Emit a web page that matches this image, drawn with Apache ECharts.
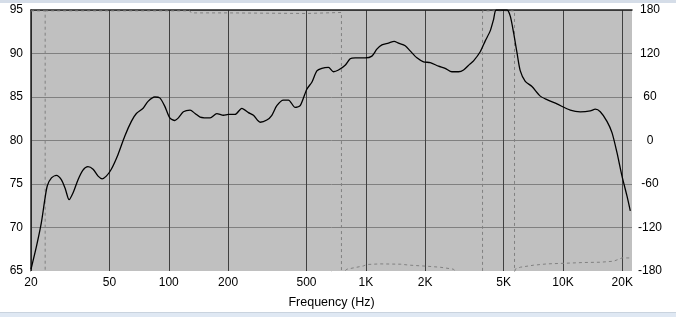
<!DOCTYPE html>
<html><head><meta charset="utf-8">
<script src="https://cdn.jsdelivr.net/npm/echarts@6/dist/echarts.min.js"></script>
<style>html,body{margin:0;padding:0;background:#fff}#c{width:676px;height:317px}</style>
</head><body><div id="c"></div>
<script>
// Frequency (Hz) and SPL (dB) of the response curve
var splFreq = [20,21.3,22.55,23.5,24.2,25.4,26.9,28.5,29.9,31.2,32.7,34.65,36.7,38.9,41.3,43.8,45.9,48.2,51.1,55.3,59.8,64.6,68.5,74.1,78.5,84.9,90,95.4,101.2,107.3,111.9,118.6,128.3,136,144.2,162.1,175.3,189.4,200.7,217.1,234.8,253.6,268.9,290.8,314.4,333.4,353.4,381.8,404.8,437.8,464.2,501.7,532,564.1,597.9,645.9,684.8,726.1,785.1,832.4,882.6,992,1073,1137,1206,1302,1392,1463,1583,1678,1815,1961,2121,2337,2526,2732,2952,3130,3357,3518,3804,4034,4275,4444,4586,5198,5403,5616,5844,6074,6438,6962,7670,8295,9325,10889,12239,13759,14585,15463,16720,17729,18796,19931,21134,21963];
var splDb = [65.2,67.8,70.5,73.2,74.8,75.7,76.0,75.5,74.4,73.2,74.0,75.5,76.6,77.0,76.7,75.9,75.6,75.9,76.7,78.4,80.5,82.2,83.1,83.7,84.5,85.0,84.9,83.95,82.6,82.3,82.6,83.3,83.5,83.1,82.7,82.6,83.1,82.9,83.0,83.0,83.7,83.2,82.9,82.1,82.35,82.9,84.0,84.65,84.65,83.8,84.0,85.9,86.7,88.0,88.3,88.4,87.9,88.1,88.65,89.4,89.5,89.5,89.7,90.5,91.0,91.2,91.4,91.2,90.9,90.3,89.5,89.05,88.95,88.55,88.3,87.9,87.9,88.1,88.75,89.15,90.2,91.45,92.6,93.9,95.0,95.0,94.3,92.4,90.1,88.0,86.8,86.2,85.1,84.7,84.2,83.5,83.3,83.4,83.6,83.3,82.2,80.9,78.6,75.9,73.6,71.9];
// Phase (degrees); '-' breaks the curve after a wrap
var phaseFreq = [20,23.6,23.6,23.6,23.6,128,130,200,202,498,502,751.8,751.8,801,972,1012,1182,1493,1678,2040,2383,2784,2900,3908,3908,5678,5678,5726,6074,7092,8295,10480,12725,15463,18065,19931,22400];
var phaseDeg = [178.8,178.8,-184,'-',178.8,178.8,176.0,176.0,175.2,175.2,176.6,176.6,-184,-177.5,-173,-171,-170.2,-170.6,-172,-173.4,-174.8,-177.5,-184,-184,178.8,178.8,-184,-177.5,-174.8,-172,-170.2,-169.2,-168.3,-167.9,-166.5,-162,-162];
// Axis ticks
var freqTicks = [20,50,100,200,500,1000,2000,5000,10000,20000];
var splTicks = [65,70,75,80,85,90,95];
var phaseTicks = [-180,-120,-60,0,60,120,180];

var splData = splFreq.map(function(f,i){return [f, splDb[i]];});
var phaseData = phaseFreq.map(function(f,i){return [f, phaseDeg[i]];});
var font = '"Liberation Sans", Arial, sans-serif';

var chart = echarts.init(document.getElementById('c'), null, {renderer:'canvas'});
chart.setOption({
  animation: false,
  backgroundColor: '#ffffff',
  textStyle: {fontFamily: font},
  graphic: [
    {type:'rect', shape:{x:0,y:0,width:676,height:3}, style:{fill:'#d5dde8'}, silent:true},
    {type:'rect', shape:{x:0,y:312,width:676,height:1}, style:{fill:'#c9d3de'}, silent:true},
    {type:'rect', shape:{x:0,y:313,width:676,height:4}, style:{fill:'#dfe8f3'}, silent:true}
  ],
  grid: {left:31, right:44, top:10, bottom:46, show:true, backgroundColor:'#c0c0c0', borderWidth:0},
  xAxis: [{
    type:'log', logBase:10, min:20, max:22400,
    name:'Frequency (Hz)', nameLocation:'middle', nameGap:25,
    nameTextStyle:{color:'#000', fontSize:12.5, fontFamily:font},
    axisLine:{show:true, onZero:false, lineStyle:{color:'#ffffff', width:1}},
    axisTick:{show:false, customValues: freqTicks},
    axisLabel:{show:true, customValues: freqTicks, color:'#000', fontSize:12, fontFamily:font, margin:6,
      formatter:function(v){ return v>=1000 ? (v/1000)+'K' : String(v); }},
    splitLine:{show:true, lineStyle:{color:'#404040', width:1}},
    minorSplitLine:{show:false}
  },{
    type:'value', position:'top', min:0, max:1,
    axisLine:{show:true, onZero:false, lineStyle:{color:'#202020', width:1.5}},
    axisTick:{show:false}, axisLabel:{show:false}, splitLine:{show:false}
  }],
  yAxis: [{
    type:'value', min:65, max:95, interval:5, position:'left',
    axisLine:{show:true, onZero:false, lineStyle:{color:'#202020', width:1.5}},
    axisTick:{show:false},
    axisLabel:{color:'#000', fontSize:12, fontFamily:font, margin:8,
      customValues: splTicks},
    splitLine:{show:true, lineStyle:{color:'#808080', width:1}}
  },{
    type:'value', min:-180, max:180, interval:60, position:'right',
    axisLine:{show:true, onZero:false, lineStyle:{color:'#ffffff', width:1}},
    axisTick:{show:false},
    axisLabel:{color:'#000', fontSize:12, fontFamily:font, margin:18, align:'center',
      customValues: phaseTicks},
    splitLine:{show:false}
  }],
  series: [{
    type:'line', name:'Phase', xAxisIndex:0, yAxisIndex:1, data: phaseData,
    showSymbol:false, symbol:'none', connectNulls:false, clip:true,
    lineStyle:{color:'#808080', width:1, type:[3,3]}, z:3
  },{
    type:'line', name:'SPL', xAxisIndex:0, yAxisIndex:0, data: splData,
    showSymbol:false, symbol:'none', smooth:0.25, clip:true,
    lineStyle:{color:'#000000', width:1.3}, z:4
  }]
});
</script></body></html>
